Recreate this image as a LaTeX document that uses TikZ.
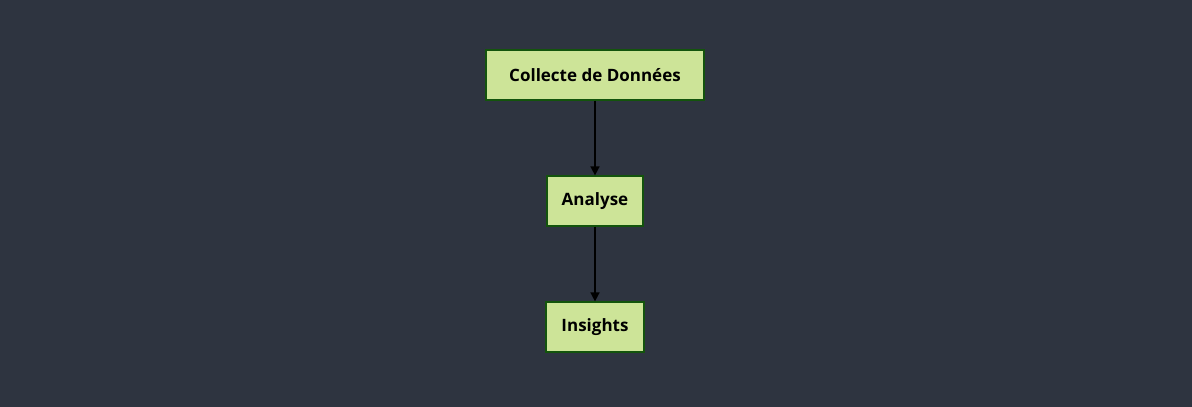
\documentclass[tikz,border=0pt]{standalone}
\usepackage{fontspec}
\setmainfont{Open Sans}
\usetikzlibrary{arrows.meta}
\definecolor{bg}{HTML}{2E3440}
\definecolor{boxfill}{HTML}{CDE498}
\definecolor{boxline}{HTML}{13540C}
\tikzset{
  box/.style={draw=boxline, fill=boxfill, line width=1.2pt, minimum height=50pt, inner sep=0pt, font=\fontsize{17pt}{20pt}\selectfont\bfseries, text=black},
  conn/.style={draw=black, line width=1.5pt, -{Triangle[length=9pt,width=9pt]}}
}
\begin{document}
\begin{tikzpicture}[x=1pt,y=1pt]
\fill[bg] (0,0) rectangle (1192,407);
\useasboundingbox (0,0) rectangle (1192,407);
\node[box, minimum width=218pt] (a) at (595,332) {Collecte de Données};
\node[box, minimum width=96pt] (b) at (595,206) {Analyse};
\node[box, minimum width=98pt] (c) at (595,80) {Insights};
\draw[conn] (a) -- (b);
\draw[conn] (b) -- (c);
\end{tikzpicture}
\end{document}
